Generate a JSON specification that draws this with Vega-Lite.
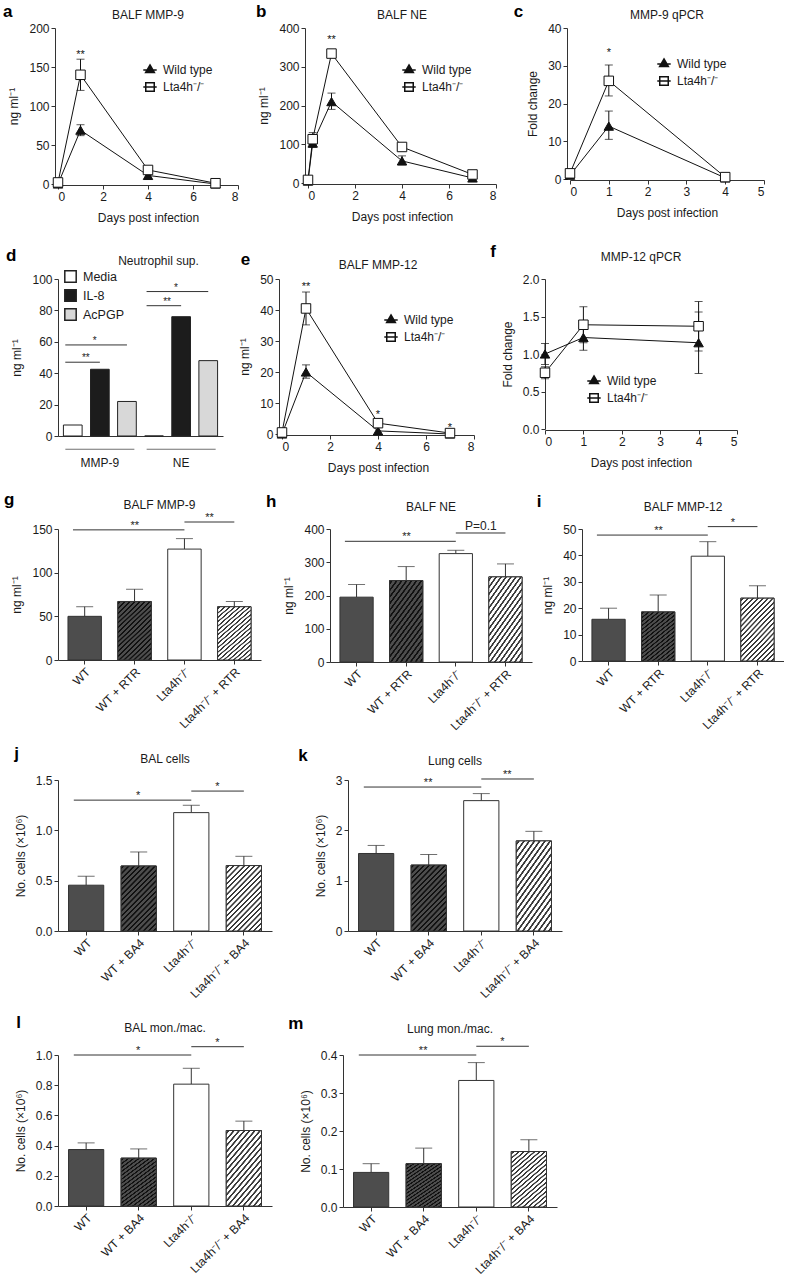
{
"$schema": "https://vega.github.io/schema/vega-lite/v6.json",
"padding": {"left": 2, "top": 3, "right": 0, "bottom": 0},
"background": "white",
"params": [
  {"name": "hatchDark", "value": {"gradient": "linear", "x1": 0, "y1": 0, "x2": 0.653, "y2": 1.19, "stops": [
      {"offset": 0, "color": "#4d4d4d"},
      {"offset": 0.0132, "color": "#4d4d4d"}, {"offset": 0.0184, "color": "#111111"}, {"offset": 0.0342, "color": "#111111"}, {"offset": 0.0395, "color": "#4d4d4d"},
      {"offset": 0.0658, "color": "#4d4d4d"}, {"offset": 0.0711, "color": "#111111"}, {"offset": 0.0868, "color": "#111111"}, {"offset": 0.0921, "color": "#4d4d4d"},
      {"offset": 0.1184, "color": "#4d4d4d"}, {"offset": 0.1237, "color": "#111111"}, {"offset": 0.1395, "color": "#111111"}, {"offset": 0.1447, "color": "#4d4d4d"},
      {"offset": 0.1711, "color": "#4d4d4d"}, {"offset": 0.1763, "color": "#111111"}, {"offset": 0.1921, "color": "#111111"}, {"offset": 0.1974, "color": "#4d4d4d"},
      {"offset": 0.2237, "color": "#4d4d4d"}, {"offset": 0.2289, "color": "#111111"}, {"offset": 0.2447, "color": "#111111"}, {"offset": 0.25, "color": "#4d4d4d"},
      {"offset": 0.2763, "color": "#4d4d4d"}, {"offset": 0.2816, "color": "#111111"}, {"offset": 0.2974, "color": "#111111"}, {"offset": 0.3026, "color": "#4d4d4d"},
      {"offset": 0.3289, "color": "#4d4d4d"}, {"offset": 0.3342, "color": "#111111"}, {"offset": 0.35, "color": "#111111"}, {"offset": 0.3553, "color": "#4d4d4d"},
      {"offset": 0.3816, "color": "#4d4d4d"}, {"offset": 0.3868, "color": "#111111"}, {"offset": 0.4026, "color": "#111111"}, {"offset": 0.4079, "color": "#4d4d4d"},
      {"offset": 0.4342, "color": "#4d4d4d"}, {"offset": 0.4395, "color": "#111111"}, {"offset": 0.4553, "color": "#111111"}, {"offset": 0.4605, "color": "#4d4d4d"},
      {"offset": 0.4868, "color": "#4d4d4d"}, {"offset": 0.4921, "color": "#111111"}, {"offset": 0.5079, "color": "#111111"}, {"offset": 0.5132, "color": "#4d4d4d"},
      {"offset": 0.5395, "color": "#4d4d4d"}, {"offset": 0.5447, "color": "#111111"}, {"offset": 0.5605, "color": "#111111"}, {"offset": 0.5658, "color": "#4d4d4d"},
      {"offset": 0.5921, "color": "#4d4d4d"}, {"offset": 0.5974, "color": "#111111"}, {"offset": 0.6132, "color": "#111111"}, {"offset": 0.6184, "color": "#4d4d4d"},
      {"offset": 0.6447, "color": "#4d4d4d"}, {"offset": 0.65, "color": "#111111"}, {"offset": 0.6658, "color": "#111111"}, {"offset": 0.6711, "color": "#4d4d4d"},
      {"offset": 0.6974, "color": "#4d4d4d"}, {"offset": 0.7026, "color": "#111111"}, {"offset": 0.7184, "color": "#111111"}, {"offset": 0.7237, "color": "#4d4d4d"},
      {"offset": 0.75, "color": "#4d4d4d"}, {"offset": 0.7553, "color": "#111111"}, {"offset": 0.7711, "color": "#111111"}, {"offset": 0.7763, "color": "#4d4d4d"},
      {"offset": 0.8026, "color": "#4d4d4d"}, {"offset": 0.8079, "color": "#111111"}, {"offset": 0.8237, "color": "#111111"}, {"offset": 0.8289, "color": "#4d4d4d"},
      {"offset": 0.8553, "color": "#4d4d4d"}, {"offset": 0.8605, "color": "#111111"}, {"offset": 0.8763, "color": "#111111"}, {"offset": 0.8816, "color": "#4d4d4d"},
      {"offset": 0.9079, "color": "#4d4d4d"}, {"offset": 0.9132, "color": "#111111"}, {"offset": 0.9289, "color": "#111111"}, {"offset": 0.9342, "color": "#4d4d4d"},
      {"offset": 0.9605, "color": "#4d4d4d"}, {"offset": 0.9658, "color": "#111111"}, {"offset": 0.9816, "color": "#111111"}, {"offset": 0.9868, "color": "#4d4d4d"},
      {"offset": 1, "color": "#4d4d4d"}]}},
  {"name": "hatchLight", "value": {"gradient": "linear", "x1": 0, "y1": 0, "x2": 0.653, "y2": 1.19, "stops": [
      {"offset": 0, "color": "#ffffff"},
      {"offset": 0.0132, "color": "#ffffff"}, {"offset": 0.0184, "color": "#3a3a3a"}, {"offset": 0.0342, "color": "#3a3a3a"}, {"offset": 0.0395, "color": "#ffffff"},
      {"offset": 0.0658, "color": "#ffffff"}, {"offset": 0.0711, "color": "#3a3a3a"}, {"offset": 0.0868, "color": "#3a3a3a"}, {"offset": 0.0921, "color": "#ffffff"},
      {"offset": 0.1184, "color": "#ffffff"}, {"offset": 0.1237, "color": "#3a3a3a"}, {"offset": 0.1395, "color": "#3a3a3a"}, {"offset": 0.1447, "color": "#ffffff"},
      {"offset": 0.1711, "color": "#ffffff"}, {"offset": 0.1763, "color": "#3a3a3a"}, {"offset": 0.1921, "color": "#3a3a3a"}, {"offset": 0.1974, "color": "#ffffff"},
      {"offset": 0.2237, "color": "#ffffff"}, {"offset": 0.2289, "color": "#3a3a3a"}, {"offset": 0.2447, "color": "#3a3a3a"}, {"offset": 0.25, "color": "#ffffff"},
      {"offset": 0.2763, "color": "#ffffff"}, {"offset": 0.2816, "color": "#3a3a3a"}, {"offset": 0.2974, "color": "#3a3a3a"}, {"offset": 0.3026, "color": "#ffffff"},
      {"offset": 0.3289, "color": "#ffffff"}, {"offset": 0.3342, "color": "#3a3a3a"}, {"offset": 0.35, "color": "#3a3a3a"}, {"offset": 0.3553, "color": "#ffffff"},
      {"offset": 0.3816, "color": "#ffffff"}, {"offset": 0.3868, "color": "#3a3a3a"}, {"offset": 0.4026, "color": "#3a3a3a"}, {"offset": 0.4079, "color": "#ffffff"},
      {"offset": 0.4342, "color": "#ffffff"}, {"offset": 0.4395, "color": "#3a3a3a"}, {"offset": 0.4553, "color": "#3a3a3a"}, {"offset": 0.4605, "color": "#ffffff"},
      {"offset": 0.4868, "color": "#ffffff"}, {"offset": 0.4921, "color": "#3a3a3a"}, {"offset": 0.5079, "color": "#3a3a3a"}, {"offset": 0.5132, "color": "#ffffff"},
      {"offset": 0.5395, "color": "#ffffff"}, {"offset": 0.5447, "color": "#3a3a3a"}, {"offset": 0.5605, "color": "#3a3a3a"}, {"offset": 0.5658, "color": "#ffffff"},
      {"offset": 0.5921, "color": "#ffffff"}, {"offset": 0.5974, "color": "#3a3a3a"}, {"offset": 0.6132, "color": "#3a3a3a"}, {"offset": 0.6184, "color": "#ffffff"},
      {"offset": 0.6447, "color": "#ffffff"}, {"offset": 0.65, "color": "#3a3a3a"}, {"offset": 0.6658, "color": "#3a3a3a"}, {"offset": 0.6711, "color": "#ffffff"},
      {"offset": 0.6974, "color": "#ffffff"}, {"offset": 0.7026, "color": "#3a3a3a"}, {"offset": 0.7184, "color": "#3a3a3a"}, {"offset": 0.7237, "color": "#ffffff"},
      {"offset": 0.75, "color": "#ffffff"}, {"offset": 0.7553, "color": "#3a3a3a"}, {"offset": 0.7711, "color": "#3a3a3a"}, {"offset": 0.7763, "color": "#ffffff"},
      {"offset": 0.8026, "color": "#ffffff"}, {"offset": 0.8079, "color": "#3a3a3a"}, {"offset": 0.8237, "color": "#3a3a3a"}, {"offset": 0.8289, "color": "#ffffff"},
      {"offset": 0.8553, "color": "#ffffff"}, {"offset": 0.8605, "color": "#3a3a3a"}, {"offset": 0.8763, "color": "#3a3a3a"}, {"offset": 0.8816, "color": "#ffffff"},
      {"offset": 0.9079, "color": "#ffffff"}, {"offset": 0.9132, "color": "#3a3a3a"}, {"offset": 0.9289, "color": "#3a3a3a"}, {"offset": 0.9342, "color": "#ffffff"},
      {"offset": 0.9605, "color": "#ffffff"}, {"offset": 0.9658, "color": "#3a3a3a"}, {"offset": 0.9816, "color": "#3a3a3a"}, {"offset": 0.9868, "color": "#ffffff"},
      {"offset": 1, "color": "#ffffff"}]}}
],
"config": {
  "font": "Liberation Sans",
  "view": {"stroke": null},
  "axis": {"grid": false, "domainColor": "#333", "tickColor": "#333", "labelColor": "#1a1a1a", "titleColor": "#1a1a1a", "labelFontSize": 12, "titleFontSize": 12, "titleFontWeight": "normal", "tickSize": 4, "labelPadding": 2, "domainWidth": 1, "tickWidth": 1},
  "axisY": {"titlePadding": 8},
  "axisX": {"titlePadding": 10},
  "title": {"fontSize": 12, "fontWeight": "normal", "color": "#1a1a1a"},
  "legend": {"labelColor": "#1a1a1a", "padding": 0}
},
"datasets": {
  "lineA": [
    {"genotype": "Wild type", "day": 0, "mean": 0},
    {"genotype": "Wild type", "day": 1, "mean": 69, "lo": 62, "hi": 76},
    {"genotype": "Wild type", "day": 4, "mean": 11},
    {"genotype": "Wild type", "day": 7, "mean": 0},
    {"genotype": "Lta4h⁻/⁻", "day": 0, "mean": 2},
    {"genotype": "Lta4h⁻/⁻", "day": 1, "mean": 140, "lo": 120, "hi": 160},
    {"genotype": "Lta4h⁻/⁻", "day": 4, "mean": 18},
    {"genotype": "Lta4h⁻/⁻", "day": 7, "mean": 1}
  ],
  "starA": [{"day": 1, "y": 162, "label": "**"}],
  "lineB": [
    {"genotype": "Wild type", "day": 0, "mean": 5},
    {"genotype": "Wild type", "day": 0.2, "mean": 103, "lo": 92, "hi": 114},
    {"genotype": "Wild type", "day": 1, "mean": 210, "lo": 190, "hi": 232},
    {"genotype": "Wild type", "day": 4, "mean": 57, "lo": 47, "hi": 70},
    {"genotype": "Wild type", "day": 7, "mean": 13},
    {"genotype": "Lta4h⁻/⁻", "day": 0, "mean": 8},
    {"genotype": "Lta4h⁻/⁻", "day": 0.2, "mean": 113, "lo": 100, "hi": 130},
    {"genotype": "Lta4h⁻/⁻", "day": 1, "mean": 334, "lo": 326, "hi": 343},
    {"genotype": "Lta4h⁻/⁻", "day": 4, "mean": 93},
    {"genotype": "Lta4h⁻/⁻", "day": 7, "mean": 22}
  ],
  "starB": [{"day": 1, "y": 361, "label": "**"}],
  "lineC": [
    {"genotype": "Wild type", "day": 0, "mean": 1},
    {"genotype": "Wild type", "day": 1, "mean": 14, "lo": 10.5, "hi": 18},
    {"genotype": "Wild type", "day": 4, "mean": 0.3},
    {"genotype": "Lta4h⁻/⁻", "day": 0, "mean": 1.5},
    {"genotype": "Lta4h⁻/⁻", "day": 1, "mean": 26, "lo": 22, "hi": 30.2},
    {"genotype": "Lta4h⁻/⁻", "day": 4, "mean": 0.5}
  ],
  "starC": [{"day": 1, "y": 32.5, "label": "*"}],
  "lineE": [
    {"genotype": "Wild type", "day": 0, "mean": 0},
    {"genotype": "Wild type", "day": 1, "mean": 20, "lo": 18, "hi": 22.3},
    {"genotype": "Wild type", "day": 4, "mean": 1},
    {"genotype": "Wild type", "day": 7, "mean": 0},
    {"genotype": "Lta4h⁻/⁻", "day": 0, "mean": 0.5},
    {"genotype": "Lta4h⁻/⁻", "day": 1, "mean": 40.5, "lo": 35.2, "hi": 45.8},
    {"genotype": "Lta4h⁻/⁻", "day": 4, "mean": 3.5},
    {"genotype": "Lta4h⁻/⁻", "day": 7, "mean": 0.3}
  ],
  "starE": [{"day": 1, "y": 46.4, "label": "**"}, {"day": 4, "y": 5.2, "label": "*"}, {"day": 7, "y": 1, "label": "*"}],
  "lineF": [
    {"genotype": "Wild type", "day": 0, "mean": 1.0, "lo": 0.86, "hi": 1.14},
    {"genotype": "Wild type", "day": 1, "mean": 1.22, "lo": 1.05, "hi": 1.39},
    {"genotype": "Wild type", "day": 4, "mean": 1.15, "lo": 0.74, "hi": 1.56},
    {"genotype": "Lta4h⁻/⁻", "day": 0, "mean": 0.75, "lo": 0.67, "hi": 0.83},
    {"genotype": "Lta4h⁻/⁻", "day": 1, "mean": 1.39, "lo": 1.15, "hi": 1.63},
    {"genotype": "Lta4h⁻/⁻", "day": 4, "mean": 1.37, "lo": 1.04, "hi": 1.7}
  ],
  "barD": [
    {"bar": "MMP-9 Media", "group": "MMP-9", "treatment": "Media", "mean": 7},
    {"bar": "MMP-9 IL-8", "group": "MMP-9", "treatment": "IL-8", "mean": 42.5},
    {"bar": "MMP-9 AcPGP", "group": "MMP-9", "treatment": "AcPGP", "mean": 22},
    {"bar": "NE Media", "group": "NE", "treatment": "Media", "mean": 0},
    {"bar": "NE IL-8", "group": "NE", "treatment": "IL-8", "mean": 76},
    {"bar": "NE AcPGP", "group": "NE", "treatment": "AcPGP", "mean": 48}
  ],
  "groupD": [{"bar": "MMP-9 IL-8", "y": -8.5}, {"bar": "NE IL-8", "y": -8.5}],
  "sigD": [
    {"from": "MMP-9 Media", "to": "MMP-9 IL-8", "y": 47, "label": "**", "kind": "short"},
    {"from": "MMP-9 Media", "to": "MMP-9 AcPGP", "y": 58, "label": "*", "kind": "long"},
    {"from": "NE Media", "to": "NE IL-8", "y": 83, "label": "**", "kind": "short"},
    {"from": "NE Media", "to": "NE AcPGP", "y": 92, "label": "*", "kind": "long"}
  ],
  "barG": [
    {"group": "WT", "mean": 50, "hi": 61},
    {"group": "WT + RTR", "mean": 67, "hi": 81},
    {"group": "Lta4h⁻/⁻", "mean": 127, "hi": 139},
    {"group": "Lta4h⁻/⁻ + RTR", "mean": 61, "hi": 67}
  ],
  "sigG": [
    {"from": "WT", "to": "Lta4h⁻/⁻", "y": 149, "label": "**", "kind": "long"},
    {"from": "Lta4h⁻/⁻", "to": "Lta4h⁻/⁻ + RTR", "y": 158, "label": "**", "kind": "short"}
  ],
  "barH": [
    {"group": "WT", "mean": 195, "hi": 233},
    {"group": "WT + RTR", "mean": 245, "hi": 287},
    {"group": "Lta4h⁻/⁻", "mean": 326, "hi": 336},
    {"group": "Lta4h⁻/⁻ + RTR", "mean": 256, "hi": 295}
  ],
  "sigH": [
    {"from": "WT", "to": "Lta4h⁻/⁻", "y": 363, "label": "**", "kind": "long"},
    {"from": "Lta4h⁻/⁻", "to": "Lta4h⁻/⁻ + RTR", "y": 388, "label": "P=0.1", "kind": "short"}
  ],
  "barI": [
    {"group": "WT", "mean": 15.8, "hi": 20},
    {"group": "WT + RTR", "mean": 18.6, "hi": 25},
    {"group": "Lta4h⁻/⁻", "mean": 39.7, "hi": 45.2},
    {"group": "Lta4h⁻/⁻ + RTR", "mean": 23.8, "hi": 28.5}
  ],
  "sigI": [
    {"from": "WT", "to": "Lta4h⁻/⁻", "y": 47.7, "label": "**", "kind": "long"},
    {"from": "Lta4h⁻/⁻", "to": "Lta4h⁻/⁻ + RTR", "y": 50.9, "label": "*", "kind": "short"}
  ],
  "barJ": [
    {"group": "WT", "mean": 0.455, "hi": 0.544},
    {"group": "WT + BA4", "mean": 0.646, "hi": 0.785},
    {"group": "Lta4h⁻/⁻", "mean": 1.176, "hi": 1.249},
    {"group": "Lta4h⁻/⁻ + BA4", "mean": 0.65, "hi": 0.742}
  ],
  "sigJ": [
    {"from": "WT", "to": "Lta4h⁻/⁻", "y": 1.3, "label": "*", "kind": "long"},
    {"from": "Lta4h⁻/⁻", "to": "Lta4h⁻/⁻ + BA4", "y": 1.39, "label": "*", "kind": "short"}
  ],
  "barK": [
    {"group": "WT", "mean": 1.54, "hi": 1.7},
    {"group": "WT + BA4", "mean": 1.31, "hi": 1.52},
    {"group": "Lta4h⁻/⁻", "mean": 2.59, "hi": 2.73},
    {"group": "Lta4h⁻/⁻ + BA4", "mean": 1.79, "hi": 1.98}
  ],
  "sigK": [
    {"from": "WT", "to": "Lta4h⁻/⁻", "y": 2.86, "label": "**", "kind": "long"},
    {"from": "Lta4h⁻/⁻", "to": "Lta4h⁻/⁻ + BA4", "y": 3.02, "label": "**", "kind": "short"}
  ],
  "barL": [
    {"group": "WT", "mean": 0.374, "hi": 0.418},
    {"group": "WT + BA4", "mean": 0.317, "hi": 0.378},
    {"group": "Lta4h⁻/⁻", "mean": 0.807, "hi": 0.912},
    {"group": "Lta4h⁻/⁻ + BA4", "mean": 0.5, "hi": 0.562}
  ],
  "sigL": [
    {"from": "WT", "to": "Lta4h⁻/⁻", "y": 1.0, "label": "*", "kind": "long"},
    {"from": "Lta4h⁻/⁻", "to": "Lta4h⁻/⁻ + BA4", "y": 1.055, "label": "*", "kind": "short"}
  ],
  "barM": [
    {"group": "WT", "mean": 0.091, "hi": 0.114},
    {"group": "WT + BA4", "mean": 0.114, "hi": 0.155},
    {"group": "Lta4h⁻/⁻", "mean": 0.333, "hi": 0.38},
    {"group": "Lta4h⁻/⁻ + BA4", "mean": 0.146, "hi": 0.177}
  ],
  "sigM": [
    {"from": "WT", "to": "Lta4h⁻/⁻", "y": 0.4, "label": "**", "kind": "long"},
    {"from": "Lta4h⁻/⁻", "to": "Lta4h⁻/⁻ + BA4", "y": 0.423, "label": "*", "kind": "short"}
  ]
},
"spacing": 18,
"vconcat": [
 {"spacing": 20, "vconcat": [
 {"spacing": 16, "hconcat": [
  {"title": {"text": "a", "anchor": "start", "fontSize": 17, "fontWeight": "bold", "color": "#000", "offset": -12, "dx": -5},
   "resolve": {"scale": {"shape": "independent", "fill": "independent"}},
   "vconcat": [{
    "width": 180, "height": 156,
    "title": {"text": "BALF MMP-9", "offset": 0},
    "data": {"name": "lineA"},
    "resolve": {"scale": {"shape": "independent", "fill": "independent"}},
    "encoding": {
      "x": {"field": "day", "type": "quantitative", "title": "Days post infection", "scale": {"domain": [0, 8]}, "axis": {"values": [0, 2, 4, 6, 8], "offset": 1}},
      "y": {"field": "mean", "type": "quantitative", "title": "ng ml⁻¹", "scale": {"domain": [0, 200]}, "axis": {"values": [0, 50, 100, 150, 200], "offset": 3}}
    },
    "layer": [
      {"mark": {"type": "line", "color": "#111", "strokeWidth": 1}, "encoding": {"detail": {"field": "genotype", "type": "nominal"}}},
      {"mark": {"type": "rule", "color": "#111", "strokeWidth": 1}, "encoding": {"y": {"field": "lo", "type": "quantitative", "title": "ng ml⁻¹"}, "y2": {"field": "hi"}}},
      {"mark": {"type": "tick", "orient": "horizontal", "size": 8, "thickness": 1, "color": "#111"}, "encoding": {"y": {"field": "lo", "type": "quantitative", "title": "ng ml⁻¹"}}},
      {"mark": {"type": "tick", "orient": "horizontal", "size": 8, "thickness": 1, "color": "#111"}, "encoding": {"y": {"field": "hi", "type": "quantitative", "title": "ng ml⁻¹"}}},
      {"mark": {"type": "point", "filled": true, "size": 90, "stroke": "#111", "strokeWidth": 1, "opacity": 1},
       "encoding": {
        "shape": {"field": "genotype", "type": "nominal", "scale": {"domain": ["Wild type", "Lta4h⁻/⁻"], "range": ["triangle-up", "square"]}, "legend": null},
        "fill": {"field": "genotype", "type": "nominal", "scale": {"domain": ["Wild type", "Lta4h⁻/⁻"], "range": ["#111111", "#ffffff"]}, "legend": null}
       }},
      {"transform": [{"filter": "false"}], "mark": {"type": "point", "filled": true, "size": 200, "stroke": "#111", "strokeWidth": 1, "opacity": 1},
       "encoding": {
        "shape": {"field": "genotype", "type": "nominal", "scale": {"domain": ["Wild type", "Lta4h⁻/⁻"], "range": ["M-0.95,0H0.95M0,-0.72L0.62,0.36L-0.62,0.36Z", "M-0.95,0H0.95M-0.6,-0.6H0.6V0.6H-0.6Z"]}, "legend": {"title": null, "orient": "none", "legendX": 84, "legendY": 34, "symbolSize": 200, "labelFontSize": 12, "rowPadding": 3, "labelOffset": 5}},
        "fill": {"field": "genotype", "type": "nominal", "scale": {"domain": ["Wild type", "Lta4h⁻/⁻"], "range": ["#111111", "#ffffff"]}, "legend": {"title": null, "orient": "none", "legendX": 84, "legendY": 34, "symbolSize": 200, "labelFontSize": 12, "rowPadding": 3, "labelOffset": 5}}
       }},
      {"data": {"name": "starA"}, "mark": {"type": "text", "fontSize": 11, "baseline": "alphabetic", "color": "#111"}, "encoding": {"y": {"field": "y", "type": "quantitative", "title": "ng ml⁻¹"}, "text": {"field": "label", "type": "nominal"}}}
    ]
   }]
  },
  {"title": {"text": "b", "anchor": "start", "fontSize": 17, "fontWeight": "bold", "color": "#000", "offset": -12, "dx": -2},
   "resolve": {"scale": {"shape": "independent", "fill": "independent"}},
   "vconcat": [{
    "width": 188, "height": 155,
    "title": {"text": "BALF NE", "offset": 0},
    "data": {"name": "lineB"},
    "resolve": {"scale": {"shape": "independent", "fill": "independent"}},
    "encoding": {
      "x": {"field": "day", "type": "quantitative", "title": "Days post infection", "scale": {"domain": [0, 8]}, "axis": {"values": [0, 2, 4, 6, 8], "offset": 1}},
      "y": {"field": "mean", "type": "quantitative", "title": "ng ml⁻¹", "scale": {"domain": [0, 400]}, "axis": {"values": [0, 100, 200, 300, 400], "offset": 3}}
    },
    "layer": [
      {"mark": {"type": "line", "color": "#111", "strokeWidth": 1}, "encoding": {"detail": {"field": "genotype", "type": "nominal"}}},
      {"mark": {"type": "rule", "color": "#111", "strokeWidth": 1}, "encoding": {"y": {"field": "lo", "type": "quantitative", "title": "ng ml⁻¹"}, "y2": {"field": "hi"}}},
      {"mark": {"type": "tick", "orient": "horizontal", "size": 8, "thickness": 1, "color": "#111"}, "encoding": {"y": {"field": "lo", "type": "quantitative", "title": "ng ml⁻¹"}}},
      {"mark": {"type": "tick", "orient": "horizontal", "size": 8, "thickness": 1, "color": "#111"}, "encoding": {"y": {"field": "hi", "type": "quantitative", "title": "ng ml⁻¹"}}},
      {"mark": {"type": "point", "filled": true, "size": 90, "stroke": "#111", "strokeWidth": 1, "opacity": 1},
       "encoding": {
        "shape": {"field": "genotype", "type": "nominal", "scale": {"domain": ["Wild type", "Lta4h⁻/⁻"], "range": ["triangle-up", "square"]}, "legend": null},
        "fill": {"field": "genotype", "type": "nominal", "scale": {"domain": ["Wild type", "Lta4h⁻/⁻"], "range": ["#111111", "#ffffff"]}, "legend": null}
       }},
      {"transform": [{"filter": "false"}], "mark": {"type": "point", "filled": true, "size": 200, "stroke": "#111", "strokeWidth": 1, "opacity": 1},
       "encoding": {
        "shape": {"field": "genotype", "type": "nominal", "scale": {"domain": ["Wild type", "Lta4h⁻/⁻"], "range": ["M-0.95,0H0.95M0,-0.72L0.62,0.36L-0.62,0.36Z", "M-0.95,0H0.95M-0.6,-0.6H0.6V0.6H-0.6Z"]}, "legend": {"title": null, "orient": "none", "legendX": 93, "legendY": 34, "symbolSize": 200, "labelFontSize": 12, "rowPadding": 3, "labelOffset": 5}},
        "fill": {"field": "genotype", "type": "nominal", "scale": {"domain": ["Wild type", "Lta4h⁻/⁻"], "range": ["#111111", "#ffffff"]}, "legend": {"title": null, "orient": "none", "legendX": 93, "legendY": 34, "symbolSize": 200, "labelFontSize": 12, "rowPadding": 3, "labelOffset": 5}}
       }},
      {"data": {"name": "starB"}, "mark": {"type": "text", "fontSize": 11, "baseline": "alphabetic", "color": "#111"}, "encoding": {"y": {"field": "y", "type": "quantitative", "title": "ng ml⁻¹"}, "text": {"field": "label", "type": "nominal"}}}
    ]
   }]
  },
  {"title": {"text": "c", "anchor": "start", "fontSize": 17, "fontWeight": "bold", "color": "#000", "offset": -12, "dx": -13},
   "resolve": {"scale": {"shape": "independent", "fill": "independent"}},
   "vconcat": [{
    "width": 194, "height": 151,
    "title": {"text": "MMP-9 qPCR", "offset": 0},
    "data": {"name": "lineC"},
    "resolve": {"scale": {"shape": "independent", "fill": "independent"}},
    "encoding": {
      "x": {"field": "day", "type": "quantitative", "title": "Days post infection", "scale": {"domain": [0, 5]}, "axis": {"values": [0, 1, 2, 3, 4, 5], "offset": 1}},
      "y": {"field": "mean", "type": "quantitative", "title": "Fold change", "scale": {"domain": [0, 40]}, "axis": {"values": [0, 10, 20, 30, 40], "offset": 3}}
    },
    "layer": [
      {"mark": {"type": "line", "color": "#111", "strokeWidth": 1}, "encoding": {"detail": {"field": "genotype", "type": "nominal"}}},
      {"mark": {"type": "rule", "color": "#111", "strokeWidth": 1}, "encoding": {"y": {"field": "lo", "type": "quantitative", "title": "Fold change"}, "y2": {"field": "hi"}}},
      {"mark": {"type": "tick", "orient": "horizontal", "size": 8, "thickness": 1, "color": "#111"}, "encoding": {"y": {"field": "lo", "type": "quantitative", "title": "Fold change"}}},
      {"mark": {"type": "tick", "orient": "horizontal", "size": 8, "thickness": 1, "color": "#111"}, "encoding": {"y": {"field": "hi", "type": "quantitative", "title": "Fold change"}}},
      {"mark": {"type": "point", "filled": true, "size": 90, "stroke": "#111", "strokeWidth": 1, "opacity": 1},
       "encoding": {
        "shape": {"field": "genotype", "type": "nominal", "scale": {"domain": ["Wild type", "Lta4h⁻/⁻"], "range": ["triangle-up", "square"]}, "legend": null},
        "fill": {"field": "genotype", "type": "nominal", "scale": {"domain": ["Wild type", "Lta4h⁻/⁻"], "range": ["#111111", "#ffffff"]}, "legend": null}
       }},
      {"transform": [{"filter": "false"}], "mark": {"type": "point", "filled": true, "size": 200, "stroke": "#111", "strokeWidth": 1, "opacity": 1},
       "encoding": {
        "shape": {"field": "genotype", "type": "nominal", "scale": {"domain": ["Wild type", "Lta4h⁻/⁻"], "range": ["M-0.95,0H0.95M0,-0.72L0.62,0.36L-0.62,0.36Z", "M-0.95,0H0.95M-0.6,-0.6H0.6V0.6H-0.6Z"]}, "legend": {"title": null, "orient": "none", "legendX": 86, "legendY": 28, "symbolSize": 200, "labelFontSize": 12, "rowPadding": 3, "labelOffset": 5}},
        "fill": {"field": "genotype", "type": "nominal", "scale": {"domain": ["Wild type", "Lta4h⁻/⁻"], "range": ["#111111", "#ffffff"]}, "legend": {"title": null, "orient": "none", "legendX": 86, "legendY": 28, "symbolSize": 200, "labelFontSize": 12, "rowPadding": 3, "labelOffset": 5}}
       }},
      {"data": {"name": "starC"}, "mark": {"type": "text", "fontSize": 11, "baseline": "alphabetic", "color": "#111"}, "encoding": {"y": {"field": "y", "type": "quantitative", "title": "Fold change"}, "text": {"field": "label", "type": "nominal"}}}
    ]
   }]
  }
 ]},
 {"spacing": 15, "hconcat": [
  {"title": {"text": "d", "anchor": "start", "fontSize": 17, "fontWeight": "bold", "color": "#000", "offset": -10, "dx": -5},
   "resolve": {"scale": {"fill": "independent"}},
   "vconcat": [{
    "width": 165, "height": 157,
    "title": {"text": "Neutrophil sup.", "offset": 2, "dx": 18},
    "encoding": {
      "x": {"field": "bar", "type": "nominal", "title": null, "scale": {"domain": ["MMP-9 Media", "MMP-9 IL-8", "MMP-9 AcPGP", "NE Media", "NE IL-8", "NE AcPGP"], "paddingInner": 0.31, "paddingOuter": 0.2}, "axis": {"ticks": false, "values": ["MMP-9 IL-8", "NE IL-8"], "labelExpr": "split(datum.value, ' ')[0]", "labelPadding": 21, "labelAngle": 0, "labelFontSize": 12}},
      "y": {"field": "mean", "type": "quantitative", "title": "ng ml⁻¹", "scale": {"domain": [0, 100]}, "axis": {"values": [0, 20, 40, 60, 80, 100]}}
    },
    "layer": [
      {"data": {"name": "barD"}, "mark": {"type": "bar", "stroke": "#222", "strokeWidth": 1},
       "encoding": {"fill": {"field": "treatment", "type": "nominal", "scale": {"domain": ["Media", "IL-8", "AcPGP"], "range": ["#ffffff", "#1c1c1c", "#d8d8d8"]}, "legend": {"title": null, "orient": "none", "legendX": 6, "legendY": -9, "symbolType": "square", "symbolSize": 130, "symbolStrokeColor": "#222", "symbolStrokeWidth": 1.5, "labelFontSize": 12.5, "rowPadding": 0, "labelOffset": 6}}}},
      {"data": {"name": "groupD"}, "mark": {"type": "tick", "orient": "horizontal", "size": 69, "thickness": 1, "color": "#333"}, "encoding": {"y": {"field": "y", "type": "quantitative", "title": "ng ml⁻¹"}}},
      {"data": {"name": "sigD"}, "mark": {"type": "rule", "color": "#333", "strokeWidth": 1}, "encoding": {"x": {"field": "from", "type": "nominal", "title": null, "bandPosition": 0.1}, "x2": {"field": "to"}, "y": {"field": "y", "type": "quantitative", "title": "ng ml⁻¹"}}},
      {"data": {"name": "sigD"}, "transform": [{"filter": "datum.kind === 'short'"}], "mark": {"type": "text", "fontSize": 10, "baseline": "alphabetic", "dx": 13, "dy": -1, "color": "#222"}, "encoding": {"x": {"field": "from", "type": "nominal", "title": null}, "y": {"field": "y", "type": "quantitative", "title": "ng ml⁻¹"}, "text": {"field": "label", "type": "nominal"}}},
      {"data": {"name": "sigD"}, "transform": [{"filter": "datum.kind === 'long'"}], "mark": {"type": "text", "fontSize": 10, "baseline": "alphabetic", "dx": 22, "dy": -1, "color": "#222"}, "encoding": {"x": {"field": "from", "type": "nominal", "title": null}, "y": {"field": "y", "type": "quantitative", "title": "ng ml⁻¹"}, "text": {"field": "label", "type": "nominal"}}}
    ]
   }]
  },
  {"title": {"text": "e", "anchor": "start", "fontSize": 17, "fontWeight": "bold", "color": "#000", "offset": -10, "dx": 2},
   "resolve": {"scale": {"shape": "independent", "fill": "independent"}},
   "vconcat": [{
    "width": 192, "height": 155,
    "title": {"text": "BALF MMP-12", "offset": 1},
    "data": {"name": "lineE"},
    "resolve": {"scale": {"shape": "independent", "fill": "independent"}},
    "encoding": {
      "x": {"field": "day", "type": "quantitative", "title": "Days post infection", "scale": {"domain": [0, 8]}, "axis": {"values": [0, 2, 4, 6, 8], "offset": 1}},
      "y": {"field": "mean", "type": "quantitative", "title": "ng ml⁻¹", "scale": {"domain": [0, 50]}, "axis": {"values": [0, 10, 20, 30, 40, 50], "offset": 3}}
    },
    "layer": [
      {"mark": {"type": "line", "color": "#111", "strokeWidth": 1}, "encoding": {"detail": {"field": "genotype", "type": "nominal"}}},
      {"mark": {"type": "rule", "color": "#111", "strokeWidth": 1}, "encoding": {"y": {"field": "lo", "type": "quantitative", "title": "ng ml⁻¹"}, "y2": {"field": "hi"}}},
      {"mark": {"type": "tick", "orient": "horizontal", "size": 8, "thickness": 1, "color": "#111"}, "encoding": {"y": {"field": "lo", "type": "quantitative", "title": "ng ml⁻¹"}}},
      {"mark": {"type": "tick", "orient": "horizontal", "size": 8, "thickness": 1, "color": "#111"}, "encoding": {"y": {"field": "hi", "type": "quantitative", "title": "ng ml⁻¹"}}},
      {"mark": {"type": "point", "filled": true, "size": 90, "stroke": "#111", "strokeWidth": 1, "opacity": 1},
       "encoding": {
        "shape": {"field": "genotype", "type": "nominal", "scale": {"domain": ["Wild type", "Lta4h⁻/⁻"], "range": ["triangle-up", "square"]}, "legend": null},
        "fill": {"field": "genotype", "type": "nominal", "scale": {"domain": ["Wild type", "Lta4h⁻/⁻"], "range": ["#111111", "#ffffff"]}, "legend": null}
       }},
      {"transform": [{"filter": "false"}], "mark": {"type": "point", "filled": true, "size": 200, "stroke": "#111", "strokeWidth": 1, "opacity": 1},
       "encoding": {
        "shape": {"field": "genotype", "type": "nominal", "scale": {"domain": ["Wild type", "Lta4h⁻/⁻"], "range": ["M-0.95,0H0.95M0,-0.72L0.62,0.36L-0.62,0.36Z", "M-0.95,0H0.95M-0.6,-0.6H0.6V0.6H-0.6Z"]}, "legend": {"title": null, "orient": "none", "legendX": 101, "legendY": 33, "symbolSize": 200, "labelFontSize": 12, "rowPadding": 3, "labelOffset": 5}},
        "fill": {"field": "genotype", "type": "nominal", "scale": {"domain": ["Wild type", "Lta4h⁻/⁻"], "range": ["#111111", "#ffffff"]}, "legend": {"title": null, "orient": "none", "legendX": 101, "legendY": 33, "symbolSize": 200, "labelFontSize": 12, "rowPadding": 3, "labelOffset": 5}}
       }},
      {"data": {"name": "starE"}, "mark": {"type": "text", "fontSize": 11, "baseline": "alphabetic", "color": "#111"}, "encoding": {"y": {"field": "y", "type": "quantitative", "title": "ng ml⁻¹"}, "text": {"field": "label", "type": "nominal"}}}
    ]
   }]
  },
  {"title": {"text": "f", "anchor": "start", "fontSize": 17, "fontWeight": "bold", "color": "#000", "offset": -10, "dx": -11},
   "resolve": {"scale": {"shape": "independent", "fill": "independent"}},
   "vconcat": [{
    "width": 192, "height": 150,
    "title": {"text": "MMP-12 qPCR", "offset": 9},
    "data": {"name": "lineF"},
    "resolve": {"scale": {"shape": "independent", "fill": "independent"}},
    "encoding": {
      "x": {"field": "day", "type": "quantitative", "title": "Days post infection", "scale": {"domain": [0, 5]}, "axis": {"values": [0, 1, 2, 3, 4, 5], "offset": 1}},
      "y": {"field": "mean", "type": "quantitative", "title": "Fold change", "scale": {"domain": [0, 2]}, "axis": {"values": [0, 0.5, 1, 1.5, 2], "format": ".1f", "offset": 0}}
    },
    "layer": [
      {"mark": {"type": "line", "color": "#111", "strokeWidth": 1}, "encoding": {"detail": {"field": "genotype", "type": "nominal"}}},
      {"mark": {"type": "rule", "color": "#111", "strokeWidth": 1}, "encoding": {"y": {"field": "lo", "type": "quantitative", "title": "Fold change"}, "y2": {"field": "hi"}}},
      {"mark": {"type": "tick", "orient": "horizontal", "size": 8, "thickness": 1, "color": "#111"}, "encoding": {"y": {"field": "lo", "type": "quantitative", "title": "Fold change"}}},
      {"mark": {"type": "tick", "orient": "horizontal", "size": 8, "thickness": 1, "color": "#111"}, "encoding": {"y": {"field": "hi", "type": "quantitative", "title": "Fold change"}}},
      {"mark": {"type": "point", "filled": true, "size": 90, "stroke": "#111", "strokeWidth": 1, "opacity": 1},
       "encoding": {
        "shape": {"field": "genotype", "type": "nominal", "scale": {"domain": ["Wild type", "Lta4h⁻/⁻"], "range": ["triangle-up", "square"]}, "legend": null},
        "fill": {"field": "genotype", "type": "nominal", "scale": {"domain": ["Wild type", "Lta4h⁻/⁻"], "range": ["#111111", "#ffffff"]}, "legend": null}
       }},
      {"transform": [{"filter": "false"}], "mark": {"type": "point", "filled": true, "size": 200, "stroke": "#111", "strokeWidth": 1, "opacity": 1},
       "encoding": {
        "shape": {"field": "genotype", "type": "nominal", "scale": {"domain": ["Wild type", "Lta4h⁻/⁻"], "range": ["M-0.95,0H0.95M0,-0.72L0.62,0.36L-0.62,0.36Z", "M-0.95,0H0.95M-0.6,-0.6H0.6V0.6H-0.6Z"]}, "legend": {"title": null, "orient": "none", "legendX": 41, "legendY": 94, "symbolSize": 200, "labelFontSize": 12, "rowPadding": 3, "labelOffset": 5}},
        "fill": {"field": "genotype", "type": "nominal", "scale": {"domain": ["Wild type", "Lta4h⁻/⁻"], "range": ["#111111", "#ffffff"]}, "legend": {"title": null, "orient": "none", "legendX": 41, "legendY": 94, "symbolSize": 200, "labelFontSize": 12, "rowPadding": 3, "labelOffset": 5}}
       }}
    ]
   }]
  }
 ]}
 ]},
 {"spacing": 13, "vconcat": [
 {"spacing": 4, "hconcat": [
  {"title": {"text": "g", "anchor": "start", "fontSize": 17, "fontWeight": "bold", "color": "#000", "offset": -10, "dx": -7},
   "resolve": {"scale": {"fill": "independent"}},
   "vconcat": [{
    "width": 203, "height": 131,
    "title": {"text": "BALF MMP-9", "offset": 0},
    "encoding": {
      "x": {"field": "group", "type": "nominal", "title": null, "scale": {"domain": ["WT", "WT + RTR", "Lta4h⁻/⁻", "Lta4h⁻/⁻ + RTR"], "paddingInner": 0.33, "paddingOuter": 0.2}, "axis": {"labelAngle": -45}},
      "y": {"field": "mean", "type": "quantitative", "title": "ng ml⁻¹", "scale": {"domain": [0, 150]}, "axis": {"values": [0, 50, 100, 150]}}
    },
    "layer": [
      {"data": {"name": "barG"}, "mark": {"type": "rule", "color": "#333", "strokeWidth": 1}, "encoding": {"y2": {"field": "hi"}}},
      {"data": {"name": "barG"}, "mark": {"type": "tick", "orient": "horizontal", "size": 17, "thickness": 1, "color": "#333"}, "encoding": {"y": {"field": "hi", "type": "quantitative", "title": "ng ml⁻¹"}}},
      {"data": {"name": "barG"}, "mark": {"type": "bar", "stroke": "#333", "strokeWidth": 1}, "encoding": {"fill": {"field": "group", "type": "nominal", "scale": {"domain": ["WT", "WT + RTR", "Lta4h⁻/⁻", "Lta4h⁻/⁻ + RTR"], "range": ["#4d4d4d", "#4d4d4d", "#ffffff", "#ffffff"]}, "legend": null}}},
      {"data": {"name": "barG"}, "transform": [{"filter": "datum.group === 'WT + RTR'"}], "mark": {"type": "bar", "fill": {"expr": "hatchDark"}, "stroke": "#333", "strokeWidth": 1}},
      {"data": {"name": "barG"}, "transform": [{"filter": "datum.group === 'Lta4h⁻/⁻ + RTR'"}], "mark": {"type": "bar", "fill": {"expr": "hatchLight"}, "stroke": "#333", "strokeWidth": 1}},
      {"data": {"name": "sigG"}, "transform": [{"filter": "datum.kind === 'long'"}], "mark": {"type": "rule", "color": "#333", "strokeWidth": 1}, "encoding": {"x": {"field": "from", "type": "nominal", "title": null, "bandPosition": 0.15}, "x2": {"field": "to"}, "y": {"field": "y", "type": "quantitative", "title": "ng ml⁻¹"}}},
      {"data": {"name": "sigG"}, "transform": [{"filter": "datum.kind === 'short'"}], "mark": {"type": "rule", "color": "#333", "strokeWidth": 1}, "encoding": {"x": {"field": "from", "type": "nominal", "title": null}, "x2": {"field": "to"}, "y": {"field": "y", "type": "quantitative", "title": "ng ml⁻¹"}}},
      {"data": {"name": "sigG"}, "transform": [{"filter": "datum.kind === 'long'"}], "mark": {"type": "text", "fontSize": 11, "baseline": "alphabetic", "dx": 50, "dy": -1, "color": "#222"}, "encoding": {"x": {"field": "from", "type": "nominal", "title": null}, "y": {"field": "y", "type": "quantitative", "title": "ng ml⁻¹"}, "text": {"field": "label", "type": "nominal"}}},
      {"data": {"name": "sigG"}, "transform": [{"filter": "datum.kind === 'short'"}], "mark": {"type": "text", "fontSize": 11, "baseline": "alphabetic", "dx": 25, "dy": -1, "color": "#222"}, "encoding": {"x": {"field": "from", "type": "nominal", "title": null}, "y": {"field": "y", "type": "quantitative", "title": "ng ml⁻¹"}, "text": {"field": "label", "type": "nominal"}}}
    ]
   }]
  },
  {"title": {"text": "h", "anchor": "start", "fontSize": 17, "fontWeight": "bold", "color": "#000", "offset": -10, "dx": -17},
   "resolve": {"scale": {"fill": "independent"}},
   "vconcat": [{
    "width": 202, "height": 133,
    "title": {"text": "BALF NE", "offset": 6},
    "encoding": {
      "x": {"field": "group", "type": "nominal", "title": null, "scale": {"domain": ["WT", "WT + RTR", "Lta4h⁻/⁻", "Lta4h⁻/⁻ + RTR"], "paddingInner": 0.33, "paddingOuter": 0.2}, "axis": {"labelAngle": -45}},
      "y": {"field": "mean", "type": "quantitative", "title": "ng ml⁻¹", "scale": {"domain": [0, 400]}, "axis": {"values": [0, 100, 200, 300, 400]}}
    },
    "layer": [
      {"data": {"name": "barH"}, "mark": {"type": "rule", "color": "#333", "strokeWidth": 1}, "encoding": {"y2": {"field": "hi"}}},
      {"data": {"name": "barH"}, "mark": {"type": "tick", "orient": "horizontal", "size": 17, "thickness": 1, "color": "#333"}, "encoding": {"y": {"field": "hi", "type": "quantitative", "title": "ng ml⁻¹"}}},
      {"data": {"name": "barH"}, "mark": {"type": "bar", "stroke": "#333", "strokeWidth": 1}, "encoding": {"fill": {"field": "group", "type": "nominal", "scale": {"domain": ["WT", "WT + RTR", "Lta4h⁻/⁻", "Lta4h⁻/⁻ + RTR"], "range": ["#4d4d4d", "#4d4d4d", "#ffffff", "#ffffff"]}, "legend": null}}},
      {"data": {"name": "barH"}, "transform": [{"filter": "datum.group === 'WT + RTR'"}], "mark": {"type": "bar", "fill": {"expr": "hatchDark"}, "stroke": "#333", "strokeWidth": 1}},
      {"data": {"name": "barH"}, "transform": [{"filter": "datum.group === 'Lta4h⁻/⁻ + RTR'"}], "mark": {"type": "bar", "fill": {"expr": "hatchLight"}, "stroke": "#333", "strokeWidth": 1}},
      {"data": {"name": "sigH"}, "transform": [{"filter": "datum.kind === 'long'"}], "mark": {"type": "rule", "color": "#333", "strokeWidth": 1}, "encoding": {"x": {"field": "from", "type": "nominal", "title": null, "bandPosition": 0.15}, "x2": {"field": "to"}, "y": {"field": "y", "type": "quantitative", "title": "ng ml⁻¹"}}},
      {"data": {"name": "sigH"}, "transform": [{"filter": "datum.kind === 'short'"}], "mark": {"type": "rule", "color": "#333", "strokeWidth": 1}, "encoding": {"x": {"field": "from", "type": "nominal", "title": null}, "x2": {"field": "to"}, "y": {"field": "y", "type": "quantitative", "title": "ng ml⁻¹"}}},
      {"data": {"name": "sigH"}, "transform": [{"filter": "datum.kind === 'long'"}], "mark": {"type": "text", "fontSize": 11, "baseline": "alphabetic", "dx": 50, "dy": -1, "color": "#222"}, "encoding": {"x": {"field": "from", "type": "nominal", "title": null}, "y": {"field": "y", "type": "quantitative", "title": "ng ml⁻¹"}, "text": {"field": "label", "type": "nominal"}}},
      {"data": {"name": "sigH"}, "transform": [{"filter": "datum.kind === 'short'"}], "mark": {"type": "text", "fontSize": 12, "baseline": "alphabetic", "dx": 25, "dy": -3, "color": "#222"}, "encoding": {"x": {"field": "from", "type": "nominal", "title": null}, "y": {"field": "y", "type": "quantitative", "title": "ng ml⁻¹"}, "text": {"field": "label", "type": "nominal"}}}
    ]
   }]
  },
  {"title": {"text": "i", "anchor": "start", "fontSize": 17, "fontWeight": "bold", "color": "#000", "offset": -10, "dx": -5},
   "resolve": {"scale": {"fill": "independent"}},
   "vconcat": [{
    "width": 202, "height": 132,
    "title": {"text": "BALF MMP-12", "offset": 3},
    "encoding": {
      "x": {"field": "group", "type": "nominal", "title": null, "scale": {"domain": ["WT", "WT + RTR", "Lta4h⁻/⁻", "Lta4h⁻/⁻ + RTR"], "paddingInner": 0.33, "paddingOuter": 0.2}, "axis": {"labelAngle": -45}},
      "y": {"field": "mean", "type": "quantitative", "title": "ng ml⁻¹", "scale": {"domain": [0, 50]}, "axis": {"values": [0, 10, 20, 30, 40, 50]}}
    },
    "layer": [
      {"data": {"name": "barI"}, "mark": {"type": "rule", "color": "#333", "strokeWidth": 1}, "encoding": {"y2": {"field": "hi"}}},
      {"data": {"name": "barI"}, "mark": {"type": "tick", "orient": "horizontal", "size": 17, "thickness": 1, "color": "#333"}, "encoding": {"y": {"field": "hi", "type": "quantitative", "title": "ng ml⁻¹"}}},
      {"data": {"name": "barI"}, "mark": {"type": "bar", "stroke": "#333", "strokeWidth": 1}, "encoding": {"fill": {"field": "group", "type": "nominal", "scale": {"domain": ["WT", "WT + RTR", "Lta4h⁻/⁻", "Lta4h⁻/⁻ + RTR"], "range": ["#4d4d4d", "#4d4d4d", "#ffffff", "#ffffff"]}, "legend": null}}},
      {"data": {"name": "barI"}, "transform": [{"filter": "datum.group === 'WT + RTR'"}], "mark": {"type": "bar", "fill": {"expr": "hatchDark"}, "stroke": "#333", "strokeWidth": 1}},
      {"data": {"name": "barI"}, "transform": [{"filter": "datum.group === 'Lta4h⁻/⁻ + RTR'"}], "mark": {"type": "bar", "fill": {"expr": "hatchLight"}, "stroke": "#333", "strokeWidth": 1}},
      {"data": {"name": "sigI"}, "transform": [{"filter": "datum.kind === 'long'"}], "mark": {"type": "rule", "color": "#333", "strokeWidth": 1}, "encoding": {"x": {"field": "from", "type": "nominal", "title": null, "bandPosition": 0.15}, "x2": {"field": "to"}, "y": {"field": "y", "type": "quantitative", "title": "ng ml⁻¹"}}},
      {"data": {"name": "sigI"}, "transform": [{"filter": "datum.kind === 'short'"}], "mark": {"type": "rule", "color": "#333", "strokeWidth": 1}, "encoding": {"x": {"field": "from", "type": "nominal", "title": null}, "x2": {"field": "to"}, "y": {"field": "y", "type": "quantitative", "title": "ng ml⁻¹"}}},
      {"data": {"name": "sigI"}, "transform": [{"filter": "datum.kind === 'long'"}], "mark": {"type": "text", "fontSize": 11, "baseline": "alphabetic", "dx": 50, "dy": -1, "color": "#222"}, "encoding": {"x": {"field": "from", "type": "nominal", "title": null}, "y": {"field": "y", "type": "quantitative", "title": "ng ml⁻¹"}, "text": {"field": "label", "type": "nominal"}}},
      {"data": {"name": "sigI"}, "transform": [{"filter": "datum.kind === 'short'"}], "mark": {"type": "text", "fontSize": 11, "baseline": "alphabetic", "dx": 25, "dy": -1, "color": "#222"}, "encoding": {"x": {"field": "from", "type": "nominal", "title": null}, "y": {"field": "y", "type": "quantitative", "title": "ng ml⁻¹"}, "text": {"field": "label", "type": "nominal"}}}
    ]
   }]
  }
 ]},
 {"spacing": 26, "hconcat": [
  {"title": {"text": "j", "anchor": "start", "fontSize": 17, "fontWeight": "bold", "color": "#000", "offset": -10, "dx": 0},
   "resolve": {"scale": {"fill": "independent"}},
   "vconcat": [{
    "width": 214, "height": 151,
    "title": {"text": "BAL cells", "offset": 8},
    "encoding": {
      "x": {"field": "group", "type": "nominal", "title": null, "scale": {"domain": ["WT", "WT + BA4", "Lta4h⁻/⁻", "Lta4h⁻/⁻ + BA4"], "paddingInner": 0.33, "paddingOuter": 0.2}, "axis": {"labelAngle": -45}},
      "y": {"field": "mean", "type": "quantitative", "title": "No. cells (×10⁶)", "scale": {"domain": [0, 1.5]}, "axis": {"values": [0, 0.5, 1, 1.5], "format": ".1f"}}
    },
    "layer": [
      {"data": {"name": "barJ"}, "mark": {"type": "rule", "color": "#333", "strokeWidth": 1}, "encoding": {"y2": {"field": "hi"}}},
      {"data": {"name": "barJ"}, "mark": {"type": "tick", "orient": "horizontal", "size": 17, "thickness": 1, "color": "#333"}, "encoding": {"y": {"field": "hi", "type": "quantitative", "title": "No. cells (×10⁶)"}}},
      {"data": {"name": "barJ"}, "mark": {"type": "bar", "stroke": "#333", "strokeWidth": 1}, "encoding": {"fill": {"field": "group", "type": "nominal", "scale": {"domain": ["WT", "WT + BA4", "Lta4h⁻/⁻", "Lta4h⁻/⁻ + BA4"], "range": ["#4d4d4d", "#4d4d4d", "#ffffff", "#ffffff"]}, "legend": null}}},
      {"data": {"name": "barJ"}, "transform": [{"filter": "datum.group === 'WT + BA4'"}], "mark": {"type": "bar", "fill": {"expr": "hatchDark"}, "stroke": "#333", "strokeWidth": 1}},
      {"data": {"name": "barJ"}, "transform": [{"filter": "datum.group === 'Lta4h⁻/⁻ + BA4'"}], "mark": {"type": "bar", "fill": {"expr": "hatchLight"}, "stroke": "#333", "strokeWidth": 1}},
      {"data": {"name": "sigJ"}, "transform": [{"filter": "datum.kind === 'long'"}], "mark": {"type": "rule", "color": "#333", "strokeWidth": 1}, "encoding": {"x": {"field": "from", "type": "nominal", "title": null, "bandPosition": 0.15}, "x2": {"field": "to"}, "y": {"field": "y", "type": "quantitative", "title": "No. cells (×10⁶)"}}},
      {"data": {"name": "sigJ"}, "transform": [{"filter": "datum.kind === 'short'"}], "mark": {"type": "rule", "color": "#333", "strokeWidth": 1}, "encoding": {"x": {"field": "from", "type": "nominal", "title": null}, "x2": {"field": "to"}, "y": {"field": "y", "type": "quantitative", "title": "No. cells (×10⁶)"}}},
      {"data": {"name": "sigJ"}, "transform": [{"filter": "datum.kind === 'long'"}], "mark": {"type": "text", "fontSize": 11, "baseline": "alphabetic", "dx": 52, "dy": -1, "color": "#222"}, "encoding": {"x": {"field": "from", "type": "nominal", "title": null}, "y": {"field": "y", "type": "quantitative", "title": "No. cells (×10⁶)"}, "text": {"field": "label", "type": "nominal"}}},
      {"data": {"name": "sigJ"}, "transform": [{"filter": "datum.kind === 'short'"}], "mark": {"type": "text", "fontSize": 11, "baseline": "alphabetic", "dx": 26, "dy": -1, "color": "#222"}, "encoding": {"x": {"field": "from", "type": "nominal", "title": null}, "y": {"field": "y", "type": "quantitative", "title": "No. cells (×10⁶)"}, "text": {"field": "label", "type": "nominal"}}}
    ]
   }]
  },
  {"title": {"text": "k", "anchor": "start", "fontSize": 17, "fontWeight": "bold", "color": "#000", "offset": -10, "dx": -16},
   "resolve": {"scale": {"fill": "independent"}},
   "vconcat": [{
    "width": 214, "height": 151,
    "title": {"text": "Lung cells", "offset": 1},
    "encoding": {
      "x": {"field": "group", "type": "nominal", "title": null, "scale": {"domain": ["WT", "WT + BA4", "Lta4h⁻/⁻", "Lta4h⁻/⁻ + BA4"], "paddingInner": 0.33, "paddingOuter": 0.2}, "axis": {"labelAngle": -45}},
      "y": {"field": "mean", "type": "quantitative", "title": "No. cells (×10⁶)", "scale": {"domain": [0, 3]}, "axis": {"values": [0, 1, 2, 3]}}
    },
    "layer": [
      {"data": {"name": "barK"}, "mark": {"type": "rule", "color": "#333", "strokeWidth": 1}, "encoding": {"y2": {"field": "hi"}}},
      {"data": {"name": "barK"}, "mark": {"type": "tick", "orient": "horizontal", "size": 17, "thickness": 1, "color": "#333"}, "encoding": {"y": {"field": "hi", "type": "quantitative", "title": "No. cells (×10⁶)"}}},
      {"data": {"name": "barK"}, "mark": {"type": "bar", "stroke": "#333", "strokeWidth": 1}, "encoding": {"fill": {"field": "group", "type": "nominal", "scale": {"domain": ["WT", "WT + BA4", "Lta4h⁻/⁻", "Lta4h⁻/⁻ + BA4"], "range": ["#4d4d4d", "#4d4d4d", "#ffffff", "#ffffff"]}, "legend": null}}},
      {"data": {"name": "barK"}, "transform": [{"filter": "datum.group === 'WT + BA4'"}], "mark": {"type": "bar", "fill": {"expr": "hatchDark"}, "stroke": "#333", "strokeWidth": 1}},
      {"data": {"name": "barK"}, "transform": [{"filter": "datum.group === 'Lta4h⁻/⁻ + BA4'"}], "mark": {"type": "bar", "fill": {"expr": "hatchLight"}, "stroke": "#333", "strokeWidth": 1}},
      {"data": {"name": "sigK"}, "transform": [{"filter": "datum.kind === 'long'"}], "mark": {"type": "rule", "color": "#333", "strokeWidth": 1}, "encoding": {"x": {"field": "from", "type": "nominal", "title": null, "bandPosition": 0.15}, "x2": {"field": "to"}, "y": {"field": "y", "type": "quantitative", "title": "No. cells (×10⁶)"}}},
      {"data": {"name": "sigK"}, "transform": [{"filter": "datum.kind === 'short'"}], "mark": {"type": "rule", "color": "#333", "strokeWidth": 1}, "encoding": {"x": {"field": "from", "type": "nominal", "title": null}, "x2": {"field": "to"}, "y": {"field": "y", "type": "quantitative", "title": "No. cells (×10⁶)"}}},
      {"data": {"name": "sigK"}, "transform": [{"filter": "datum.kind === 'long'"}], "mark": {"type": "text", "fontSize": 11, "baseline": "alphabetic", "dx": 52, "dy": -1, "color": "#222"}, "encoding": {"x": {"field": "from", "type": "nominal", "title": null}, "y": {"field": "y", "type": "quantitative", "title": "No. cells (×10⁶)"}, "text": {"field": "label", "type": "nominal"}}},
      {"data": {"name": "sigK"}, "transform": [{"filter": "datum.kind === 'short'"}], "mark": {"type": "text", "fontSize": 11, "baseline": "alphabetic", "dx": 26, "dy": -1, "color": "#222"}, "encoding": {"x": {"field": "from", "type": "nominal", "title": null}, "y": {"field": "y", "type": "quantitative", "title": "No. cells (×10⁶)"}, "text": {"field": "label", "type": "nominal"}}}
    ]
   }]
  }
 ]},
 {"spacing": 16, "hconcat": [
  {"title": {"text": "l", "anchor": "start", "fontSize": 17, "fontWeight": "bold", "color": "#000", "offset": -10, "dx": 2},
   "resolve": {"scale": {"fill": "independent"}},
   "vconcat": [{
    "width": 214, "height": 151,
    "title": {"text": "BAL mon./mac.", "offset": 2},
    "encoding": {
      "x": {"field": "group", "type": "nominal", "title": null, "scale": {"domain": ["WT", "WT + BA4", "Lta4h⁻/⁻", "Lta4h⁻/⁻ + BA4"], "paddingInner": 0.33, "paddingOuter": 0.2}, "axis": {"labelAngle": -45}},
      "y": {"field": "mean", "type": "quantitative", "title": "No. cells (×10⁶)", "scale": {"domain": [0, 1]}, "axis": {"values": [0, 0.2, 0.4, 0.6, 0.8, 1], "format": ".1f"}}
    },
    "layer": [
      {"data": {"name": "barL"}, "mark": {"type": "rule", "color": "#333", "strokeWidth": 1}, "encoding": {"y2": {"field": "hi"}}},
      {"data": {"name": "barL"}, "mark": {"type": "tick", "orient": "horizontal", "size": 17, "thickness": 1, "color": "#333"}, "encoding": {"y": {"field": "hi", "type": "quantitative", "title": "No. cells (×10⁶)"}}},
      {"data": {"name": "barL"}, "mark": {"type": "bar", "stroke": "#333", "strokeWidth": 1}, "encoding": {"fill": {"field": "group", "type": "nominal", "scale": {"domain": ["WT", "WT + BA4", "Lta4h⁻/⁻", "Lta4h⁻/⁻ + BA4"], "range": ["#4d4d4d", "#4d4d4d", "#ffffff", "#ffffff"]}, "legend": null}}},
      {"data": {"name": "barL"}, "transform": [{"filter": "datum.group === 'WT + BA4'"}], "mark": {"type": "bar", "fill": {"expr": "hatchDark"}, "stroke": "#333", "strokeWidth": 1}},
      {"data": {"name": "barL"}, "transform": [{"filter": "datum.group === 'Lta4h⁻/⁻ + BA4'"}], "mark": {"type": "bar", "fill": {"expr": "hatchLight"}, "stroke": "#333", "strokeWidth": 1}},
      {"data": {"name": "sigL"}, "transform": [{"filter": "datum.kind === 'long'"}], "mark": {"type": "rule", "color": "#333", "strokeWidth": 1}, "encoding": {"x": {"field": "from", "type": "nominal", "title": null, "bandPosition": 0.15}, "x2": {"field": "to"}, "y": {"field": "y", "type": "quantitative", "title": "No. cells (×10⁶)"}}},
      {"data": {"name": "sigL"}, "transform": [{"filter": "datum.kind === 'short'"}], "mark": {"type": "rule", "color": "#333", "strokeWidth": 1}, "encoding": {"x": {"field": "from", "type": "nominal", "title": null}, "x2": {"field": "to"}, "y": {"field": "y", "type": "quantitative", "title": "No. cells (×10⁶)"}}},
      {"data": {"name": "sigL"}, "transform": [{"filter": "datum.kind === 'long'"}], "mark": {"type": "text", "fontSize": 11, "baseline": "alphabetic", "dx": 52, "dy": -1, "color": "#222"}, "encoding": {"x": {"field": "from", "type": "nominal", "title": null}, "y": {"field": "y", "type": "quantitative", "title": "No. cells (×10⁶)"}, "text": {"field": "label", "type": "nominal"}}},
      {"data": {"name": "sigL"}, "transform": [{"filter": "datum.kind === 'short'"}], "mark": {"type": "text", "fontSize": 11, "baseline": "alphabetic", "dx": 26, "dy": -1, "color": "#222"}, "encoding": {"x": {"field": "from", "type": "nominal", "title": null}, "y": {"field": "y", "type": "quantitative", "title": "No. cells (×10⁶)"}, "text": {"field": "label", "type": "nominal"}}}
    ]
   }]
  },
  {"title": {"text": "m", "anchor": "start", "fontSize": 17, "fontWeight": "bold", "color": "#000", "offset": -10, "dx": -11},
   "resolve": {"scale": {"fill": "independent"}},
   "vconcat": [{
    "width": 214, "height": 152,
    "title": {"text": "Lung mon./mac.", "offset": 0},
    "encoding": {
      "x": {"field": "group", "type": "nominal", "title": null, "scale": {"domain": ["WT", "WT + BA4", "Lta4h⁻/⁻", "Lta4h⁻/⁻ + BA4"], "paddingInner": 0.33, "paddingOuter": 0.2}, "axis": {"labelAngle": -45}},
      "y": {"field": "mean", "type": "quantitative", "title": "No. cells (×10⁶)", "scale": {"domain": [0, 0.4]}, "axis": {"values": [0, 0.1, 0.2, 0.3, 0.4], "format": ".1f"}}
    },
    "layer": [
      {"data": {"name": "barM"}, "mark": {"type": "rule", "color": "#333", "strokeWidth": 1}, "encoding": {"y2": {"field": "hi"}}},
      {"data": {"name": "barM"}, "mark": {"type": "tick", "orient": "horizontal", "size": 17, "thickness": 1, "color": "#333"}, "encoding": {"y": {"field": "hi", "type": "quantitative", "title": "No. cells (×10⁶)"}}},
      {"data": {"name": "barM"}, "mark": {"type": "bar", "stroke": "#333", "strokeWidth": 1}, "encoding": {"fill": {"field": "group", "type": "nominal", "scale": {"domain": ["WT", "WT + BA4", "Lta4h⁻/⁻", "Lta4h⁻/⁻ + BA4"], "range": ["#4d4d4d", "#4d4d4d", "#ffffff", "#ffffff"]}, "legend": null}}},
      {"data": {"name": "barM"}, "transform": [{"filter": "datum.group === 'WT + BA4'"}], "mark": {"type": "bar", "fill": {"expr": "hatchDark"}, "stroke": "#333", "strokeWidth": 1}},
      {"data": {"name": "barM"}, "transform": [{"filter": "datum.group === 'Lta4h⁻/⁻ + BA4'"}], "mark": {"type": "bar", "fill": {"expr": "hatchLight"}, "stroke": "#333", "strokeWidth": 1}},
      {"data": {"name": "sigM"}, "transform": [{"filter": "datum.kind === 'long'"}], "mark": {"type": "rule", "color": "#333", "strokeWidth": 1}, "encoding": {"x": {"field": "from", "type": "nominal", "title": null, "bandPosition": 0.15}, "x2": {"field": "to"}, "y": {"field": "y", "type": "quantitative", "title": "No. cells (×10⁶)"}}},
      {"data": {"name": "sigM"}, "transform": [{"filter": "datum.kind === 'short'"}], "mark": {"type": "rule", "color": "#333", "strokeWidth": 1}, "encoding": {"x": {"field": "from", "type": "nominal", "title": null}, "x2": {"field": "to"}, "y": {"field": "y", "type": "quantitative", "title": "No. cells (×10⁶)"}}},
      {"data": {"name": "sigM"}, "transform": [{"filter": "datum.kind === 'long'"}], "mark": {"type": "text", "fontSize": 11, "baseline": "alphabetic", "dx": 52, "dy": -1, "color": "#222"}, "encoding": {"x": {"field": "from", "type": "nominal", "title": null}, "y": {"field": "y", "type": "quantitative", "title": "No. cells (×10⁶)"}, "text": {"field": "label", "type": "nominal"}}},
      {"data": {"name": "sigM"}, "transform": [{"filter": "datum.kind === 'short'"}], "mark": {"type": "text", "fontSize": 11, "baseline": "alphabetic", "dx": 26, "dy": -1, "color": "#222"}, "encoding": {"x": {"field": "from", "type": "nominal", "title": null}, "y": {"field": "y", "type": "quantitative", "title": "No. cells (×10⁶)"}, "text": {"field": "label", "type": "nominal"}}}
    ]
   }]
  }
 ]}
 ]}
]
}
